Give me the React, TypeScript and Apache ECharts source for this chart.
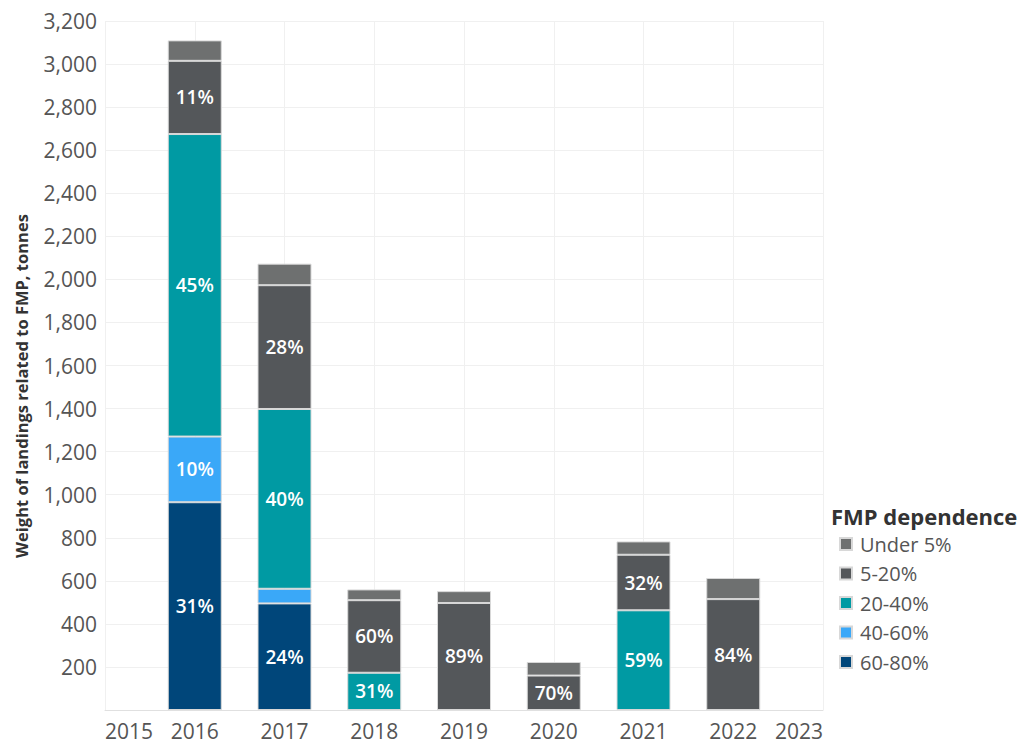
import React, { useEffect, useRef } from "react";
import * as echarts from "echarts";

const years = ["2015", "2016", "2017", "2018", "2019", "2020", "2021", "2022", "2023"];
const seriesNames = ["Under 5%", "5-20%", "20-40%", "40-60%", "60-80%"];
const colors = ["#6e7070", "#54575a", "#009aa3", "#3aa8f8", "#00467a"];
const yAxisTitle = "Weight of landings related to FMP, tonnes";

// values per year (null = no segment)
const v60_80 = [null, 965, 495, null, null, null, null, null, null];
const v40_60 = [null, 305, 68, null, null, null, null, null, null];
const v20_40 = [null, 1405, 835, 173, null, null, 463, null, null];
const v5_20 = [null, 340, 575, 337, 497, 160, 258, 515, null];
const vUnder5 = [null, 95, 100, 50, 55, 63, 62, 98, null];

const l60_80 = ["", "31%", "24%", "", "", "", "", "", ""];
const l40_60 = ["", "10%", "", "", "", "", "", "", ""];
const l20_40 = ["", "45%", "40%", "31%", "", "", "59%", "", ""];
const l5_20 = ["", "11%", "28%", "60%", "89%", "70%", "32%", "84%", ""];
const lUnder5 = ["", "", "", "", "", "", "", "", ""];

const FONT = "'Open Sans', 'Noto Sans', sans-serif";

export default function App() {
  const ref = useRef<HTMLDivElement>(null);
  useEffect(() => {
    if (!ref.current) return;
    const chart = echarts.init(ref.current, null, { renderer: "svg" });
    const mk = (name: string, vals: (number | null)[], labels: string[], color: string) => ({
      name,
      type: "bar",
      stack: "total",
      barWidth: 54,
      data: vals.map((v) => (v == null ? "-" : v)),
      itemStyle: { color, borderColor: "#d8d8d8", borderWidth: 1 },
      label: {
        show: true,
        position: "inside",
        color: "#ffffff",
        fontFamily: FONT,
        fontSize: 19,
        fontWeight: 600,
        formatter: (p: any) => labels[p.dataIndex] || "",
      },
    });
    const series = [
      mk(seriesNames[4], v60_80, l60_80, colors[4]),
      mk(seriesNames[3], v40_60, l40_60, colors[3]),
      mk(seriesNames[2], v20_40, l20_40, colors[2]),
      mk(seriesNames[1], v5_20, l5_20, colors[1]),
      mk(seriesNames[0], vUnder5, lUnder5, colors[0]),
    ];
    chart.setOption({
      animation: false,
      backgroundColor: "#ffffff",
      title: {
        text: "FMP dependence",
        left: 826,
        top: 500,
        textStyle: { fontFamily: FONT, fontSize: 22, fontWeight: "bold", color: "#333333" },
      },
      legend: {
        orient: "vertical",
        left: 834,
        top: 529,
        icon: "rect",
        itemWidth: 12,
        itemHeight: 12,
        itemGap: 9.5,
        data: seriesNames,
        textStyle: { fontFamily: FONT, fontSize: 20, color: "#555555", padding: [0, 0, 0, 3] },
      },
      graphic: [
        {
          type: "text",
          x: 21,
          y: 386,
          rotation: Math.PI / 2,
          style: {
            text: yAxisTitle,
            fontFamily: FONT,
            fontSize: 16.5,
            fontWeight: "bold",
            fill: "#333333",
            align: "center",
            verticalAlign: "middle",
          },
        },
      ],
      grid: { left: 105, right: 203, top: 21, bottom: 36 },
      xAxis: {
        type: "category",
        data: years,
        boundaryGap: false,
        axisLine: { show: true, lineStyle: { color: "#e0e0e0" } },
        axisTick: { show: false },
        splitLine: { show: true, lineStyle: { color: "#f0f0f0" } },
        axisLabel: {
          fontFamily: FONT,
          fontSize: 21,
          color: "#555555",
          margin: 10,
          interval: 0,
          alignMinLabel: "left",
          alignMaxLabel: "right",
        },
      },
      yAxis: {
        type: "value",
        min: 0,
        max: 3200,
        interval: 200,
        axisLine: { show: false },
        axisTick: { show: false },
        splitLine: { show: true, lineStyle: { color: "#f0f0f0" } },
        axisLabel: {
          fontFamily: FONT,
          fontSize: 21,
          color: "#555555",
          margin: 8,
          showMinLabel: false,
          formatter: (v: number) => (v === 0 ? "" : v.toLocaleString("en-US")),
        },
      },
      series,
    });
    return () => chart.dispose();
  }, []);
  return <div ref={ref} style={{ width: 1026, height: 746, position: "absolute", left: 0, top: 0 }} />;
}
